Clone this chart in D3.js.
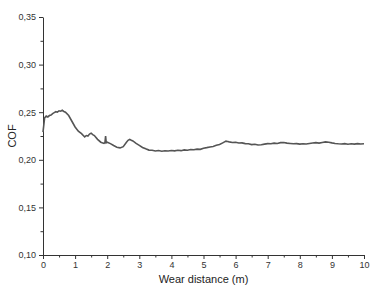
<!DOCTYPE html>
<html>
<head>
<meta charset="utf-8">
<script src="https://cdn.jsdelivr.net/npm/d3@7"></script>
<style>
  body { margin: 0; background: #fff; }
  .axis text { font-family: "Liberation Sans", Arial, sans-serif; font-size: 9px; fill: #333; }
  .axis path, .axis line { stroke: #333; }
  .axis-title { font-family: "Liberation Sans", Arial, sans-serif; font-size: 11px; fill: #222; }
</style>
</head>
<body>
<svg width="373" height="289"></svg>
<script>
const distance = [
  0, 0.05, 0.1, 0.15, 0.2, 0.25, 0.3, 0.35, 0.4, 0.45, 0.5, 0.55, 0.6, 0.65, 0.7,
  0.8, 0.9, 1.0, 1.1, 1.2, 1.3, 1.35, 1.4, 1.45, 1.5, 1.55, 1.6, 1.7, 1.8, 1.9,
  1.93, 1.95, 1.97, 2.0, 2.1, 2.2, 2.3, 2.4, 2.5, 2.6, 2.65, 2.7, 2.75, 2.8, 2.9,
  3.0, 3.1, 3.2, 3.3, 3.4, 3.5, 3.6, 3.7, 3.8, 3.9, 4.0, 4.1, 4.2, 4.3, 4.4, 4.5,
  4.6, 4.7, 4.8, 4.9, 5.0, 5.1, 5.2, 5.3, 5.4, 5.5, 5.6, 5.7, 5.75, 5.8, 5.9,
  6.0, 6.1, 6.2, 6.3, 6.4, 6.5, 6.6, 6.7, 6.8, 6.9, 7.0, 7.1, 7.2, 7.3, 7.4, 7.5,
  7.6, 7.7, 7.8, 7.9, 8.0, 8.1, 8.2, 8.3, 8.4, 8.5, 8.6, 8.7, 8.8, 8.9, 9.0, 9.1,
  9.2, 9.3, 9.4, 9.5, 9.6, 9.7, 9.8, 9.9, 10.0,
];
const cof = [
  0.229, 0.244, 0.246, 0.245, 0.2465, 0.247, 0.2485, 0.2495, 0.2505, 0.2500, 0.2515, 0.2510, 0.2520, 0.2508, 0.2500,
  0.2465, 0.2405, 0.2345, 0.2300, 0.2275, 0.2240, 0.2255, 0.2250, 0.2270, 0.2280, 0.2265, 0.2255, 0.2215, 0.2185, 0.2172,
  0.2180, 0.2250, 0.2178, 0.2185, 0.2170, 0.2150, 0.2132, 0.2125, 0.2138, 0.2185, 0.2205, 0.2215, 0.2205, 0.2198, 0.2172,
  0.2152, 0.2130, 0.2115, 0.2102, 0.2100, 0.2092, 0.2098, 0.2090, 0.2095, 0.2092, 0.2098, 0.2094, 0.2100, 0.2096, 0.2104, 0.2100,
  0.2108, 0.2105, 0.2112, 0.2110, 0.2122, 0.2128, 0.2135, 0.2140, 0.2152, 0.2160, 0.2178, 0.2196, 0.2192, 0.2188, 0.2182,
  0.2185, 0.2176, 0.2178, 0.2170, 0.2168, 0.2160, 0.2163, 0.2155, 0.2158, 0.2165, 0.2170, 0.2168, 0.2175, 0.2172, 0.2180, 0.2182,
  0.2175, 0.2172, 0.2168, 0.2170, 0.2165, 0.2168, 0.2166, 0.2172, 0.2176, 0.2180, 0.2175, 0.2182, 0.2188, 0.2185, 0.2178, 0.2172,
  0.2168, 0.2166, 0.2170, 0.2164, 0.2168, 0.2165, 0.2170, 0.2166, 0.2168,
];
const xTicks = [0, 1, 2, 3, 4, 5, 6, 7, 8, 9, 10];
const yTicks = [0.10, 0.15, 0.20, 0.25, 0.30, 0.35];

const svg = d3.select("svg");
const plotLeft = 43, plotRight = 364, plotTop = 17, plotBottom = 255;

const x = d3.scaleLinear().domain([0, 10]).range([plotLeft, plotRight]);
const y = d3.scaleLinear().domain([0.10, 0.35]).range([plotBottom, plotTop]);
const fmt = (d) => d3.format(".2f")(d).replace(".", ",");

// minor ticks
svg.append("g")
  .attr("class", "axis")
  .attr("transform", "translate(0," + plotBottom + ")")
  .call(d3.axisBottom(x).tickValues(d3.range(0.5, 10, 1)).tickSize(2.5).tickFormat(""))
  .select(".domain").remove();
svg.append("g")
  .attr("class", "axis")
  .attr("transform", "translate(" + plotLeft + ",0)")
  .call(d3.axisLeft(y).tickValues(d3.range(0.125, 0.35, 0.05)).tickSize(2.5).tickFormat(""))
  .select(".domain").remove();

// X axis
svg.append("g")
  .attr("class", "axis")
  .attr("transform", "translate(0," + plotBottom + ")")
  .call(d3.axisBottom(x).tickValues(xTicks).tickSize(4).tickSizeOuter(0).tickPadding(3));

// Y axis
svg.append("g")
  .attr("class", "axis")
  .attr("transform", "translate(" + plotLeft + ",0)")
  .call(d3.axisLeft(y).tickValues(yTicks).tickSize(4).tickSizeOuter(0).tickPadding(3).tickFormat(fmt));

// Line
const line = d3.line()
  .x((d, i) => x(distance[i]))
  .y((d) => y(d));
svg.append("path")
  .datum(cof)
  .attr("fill", "none")
  .attr("stroke", "#555")
  .attr("stroke-width", 1.6)
  .attr("d", line);

// Titles
svg.append("text")
  .attr("class", "axis-title")
  .attr("x", (plotLeft + plotRight) / 2)
  .attr("y", 283)
  .attr("text-anchor", "middle")
  .text("Wear distance (m)");

svg.append("text")
  .attr("class", "axis-title")
  .attr("text-anchor", "middle")
  .attr("transform", "translate(16," + (plotTop + plotBottom) / 2 + ")rotate(-90)")
  .text("COF");
</script>
</body>
</html>
